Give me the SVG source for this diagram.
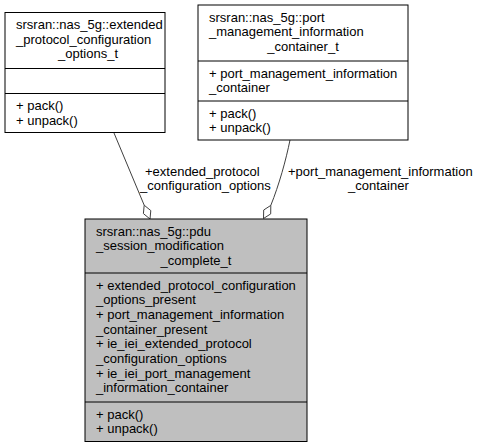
<svg xmlns="http://www.w3.org/2000/svg" width="477" height="448" viewBox="0 0 477 448">
<style>
text{font-family:"Liberation Sans",Arial,sans-serif;font-size:13px;fill:#000}
.box{fill:#fff;stroke:#000;stroke-width:1}
.main{fill:#bfbfbf;stroke:#000;stroke-width:1}
.div{stroke:#000;stroke-width:1}
.edge{fill:none;stroke:#404040;stroke-width:1}
.dia{fill:#fff;stroke:#404040;stroke-width:1}
.c{text-anchor:middle}
</style>
<rect width="477" height="448" fill="#fff"/>
<g id="connectors">
<path class="edge" d="M114,133 L144.2,205.2"/>
<polygon class="dia" points="150,219 150.8,210.6 144.2,205.2 143.4,213.6"/>
<path class="edge" d="M290,140 C286,160 279,185 270.8,205.4"/>
<polygon class="dia" points="263.5,218.5 270.7,213.9 270.8,205.4 263.7,210"/>
<text x="145" y="175.5">+extended_protocol</text>
<text x="140" y="190">_configuration_options</text>
<text x="288" y="175.5">+port_management_information</text>
<text x="348" y="190">_container</text>
</g>
<g id="node_extended">
<rect class="box" x="5" y="12.5" width="160" height="120"/>
<line class="div" x1="5" y1="68.5" x2="165" y2="68.5"/>
<line class="div" x1="5" y1="93.5" x2="165" y2="93.5"/>
<text x="16" y="29">srsran::nas_5g::extended</text>
<text x="16" y="43.5">_protocol_configuration</text>
<text class="c" x="88" y="58">_options_t</text>
<text x="16" y="110">+ pack()</text>
<text x="16" y="124.5">+ unpack()</text>
</g>
<g id="node_port">
<rect class="box" x="198" y="5" width="210" height="135"/>
<line class="div" x1="198" y1="61" x2="408" y2="61"/>
<line class="div" x1="198" y1="101" x2="408" y2="101"/>
<text x="209" y="21.5">srsran::nas_5g::port</text>
<text x="209" y="36">_management_information</text>
<text class="c" x="303" y="50.5">_container_t</text>
<text x="209" y="77.5">+ port_management_information</text>
<text x="209" y="92">_container</text>
<text x="209" y="117.5">+ pack()</text>
<text x="209" y="132">+ unpack()</text>
</g>
<g id="node_pdu">
<rect class="main" x="85" y="219" width="222" height="222.5"/>
<line class="div" x1="85" y1="273" x2="307" y2="273"/>
<line class="div" x1="85" y1="402" x2="307" y2="402"/>
<text x="96" y="235.5">srsran::nas_5g::pdu</text>
<text x="96" y="250">_session_modification</text>
<text class="c" x="196" y="264.5">_complete_t</text>
<text x="96" y="289.8">+ extended_protocol_configuration</text>
<text x="96" y="304.4">_options_present</text>
<text x="96" y="319">+ port_management_information</text>
<text x="96" y="333.7">_container_present</text>
<text x="96" y="348.3">+ ie_iei_extended_protocol</text>
<text x="96" y="363">_configuration_options</text>
<text x="96" y="377.6">+ ie_iei_port_management</text>
<text x="96" y="392.3">_information_container</text>
<text x="96" y="418.5">+ pack()</text>
<text x="96" y="433">+ unpack()</text>
</g>
</svg>
